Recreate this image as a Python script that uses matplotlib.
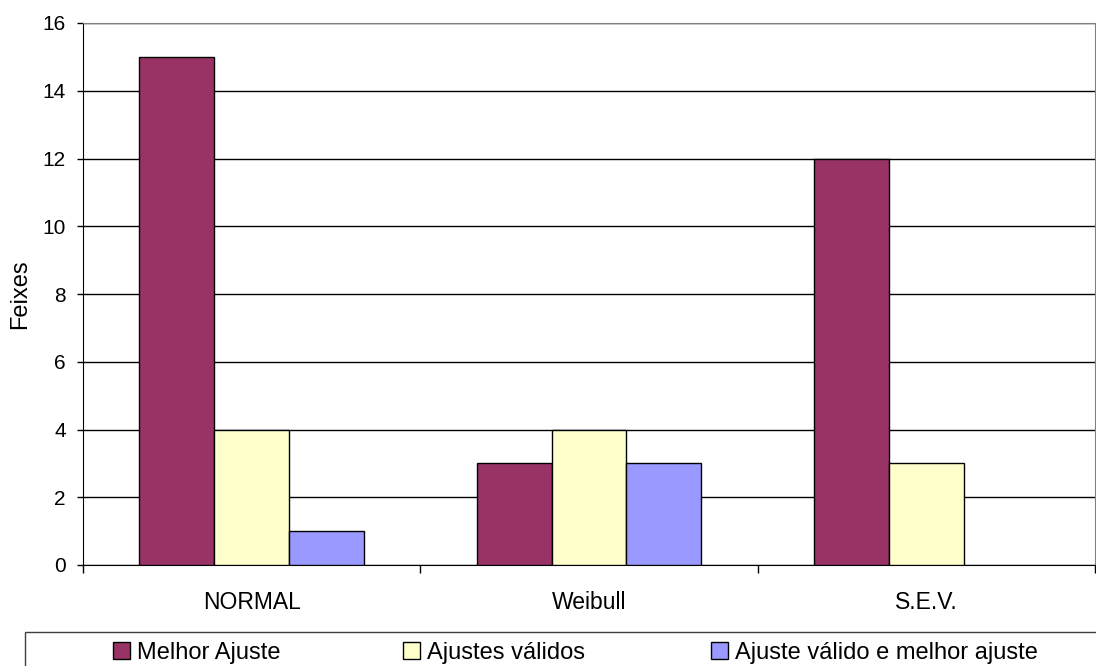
import matplotlib.pyplot as plt
import numpy as np
from matplotlib.patches import Rectangle, Patch

plt.rcParams['font.family'] = ['Liberation Sans', 'DejaVu Sans']

categorias = ["NORMAL", "Weibull", "S.E.V."]
melhor_ajuste = [15, 3, 12]
ajustes_validos = [4, 4, 3]
valido_e_melhor = [1, 3, 0]
series_nomes = ["Melhor Ajuste", "Ajustes válidos", "Ajuste válido e melhor ajuste"]
cores = ["#993366", "#FFFFCC", "#9999FF"]

fig = plt.figure(figsize=(10.96, 6.66), dpi=100)
ax = fig.add_axes([83 / 1096, 101 / 666, 1012 / 1096, 542 / 666])

x = np.arange(len(categorias)) + 0.5
largura = 2 / 9
series = [melhor_ajuste, ajustes_validos, valido_e_melhor]
for i, (vals, cor) in enumerate(zip(series, cores)):
    pos = x + (i - 1) * largura
    vals = np.array(vals, dtype=float)
    mask = vals > 0
    ax.bar(pos[mask], vals[mask], width=largura, color=cor,
           edgecolor="black", linewidth=1, zorder=3)

ax.set_xlim(0, 3)
ax.set_ylim(0, 16)
ax.set_yticks(range(0, 17, 2))
ax.yaxis.grid(True, color="black", linewidth=1, zorder=0)
ax.set_axisbelow(True)

# ticks nas fronteiras das categorias, rótulos no centro
ax.set_xticks([0, 1, 2, 3])
ax.set_xticklabels([])
ax.set_xticks(x, minor=True)
ax.set_xticklabels(categorias, minor=True, fontsize=16.5)
ax.tick_params(axis="x", which="major", direction="out", length=6, width=1)
ax.tick_params(axis="x", which="minor", length=0, pad=19)
ax.tick_params(axis="y", direction="out", length=4.3, width=1, pad=8, labelsize=15)

ax.set_ylabel("Feixes", fontsize=17, labelpad=8)

for lado in ["top", "right"]:
    ax.spines[lado].set_color("#808080")
for lado in ["left", "bottom"]:
    ax.spines[lado].set_color("black")

# caixa da legenda
fig.patches.append(Rectangle((25 / 1096, -0.2), 1.2, 0.2 + 34 / 666,
                             transform=fig.transFigure, facecolor="white",
                             edgecolor="#404040", linewidth=1, zorder=0))

pos_leg = [113, 403, 711]
for nome, cor, px in zip(series_nomes, cores, pos_leg):
    h = Patch(facecolor=cor, edgecolor="black", linewidth=1)
    fig.legend([h], [nome], loc="center left",
               bbox_to_anchor=(px / 1096, 13 / 666), frameon=False,
               fontsize=17, handlelength=0.7, handleheight=0.7,
               handletextpad=0.3, borderaxespad=0, borderpad=0)

fig.savefig("out.png", dpi=100)
